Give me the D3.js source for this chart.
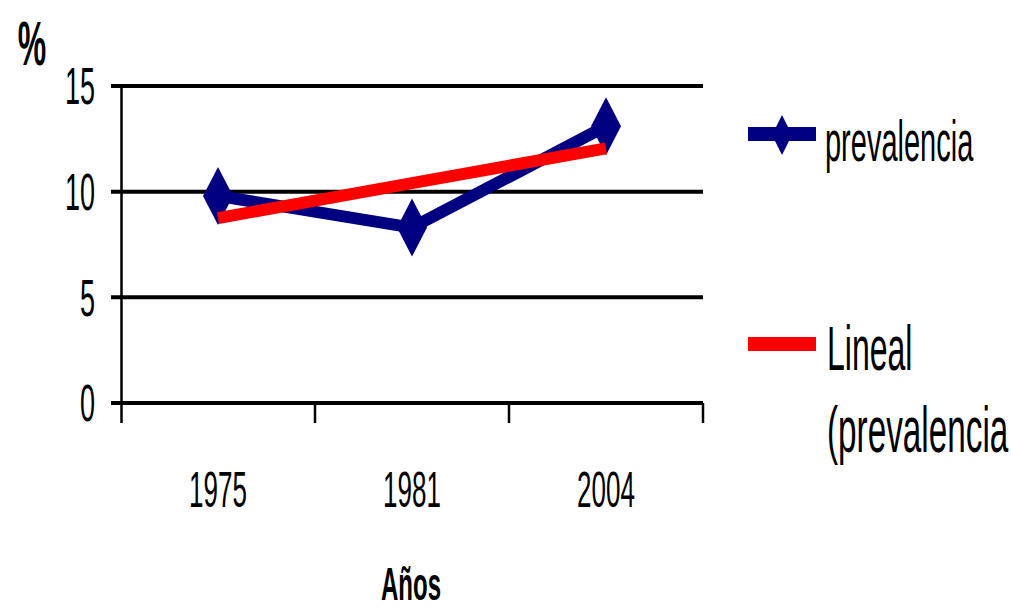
<!DOCTYPE html>
<html>
<head>
<meta charset="utf-8">
<script src="https://cdn.jsdelivr.net/npm/d3@7"></script>
<style>
  html, body { margin: 0; padding: 0; background: #fff; }
  svg { display: block; }
  text { font-family: "Liberation Sans", Arial, sans-serif; fill: #000; }
</style>
</head>
<body>
<svg id="chart" width="1011" height="609"></svg>
<script>
// Prevalencia (%) por año
const years = ["1975", "1981", "2004"];
const prevalencia = [9.8, 8.3, 13.1];
const yTicks = [0, 5, 10, 15];
const seriesNames = ["prevalencia", "Lineal", "(prevalencia"];

const svg = d3.select("#chart");
const SY = 1.95; // tall, condensed lettering

const x = d3.scaleBand().domain(years).range([121, 703]).padding(0);
const y = d3.scaleLinear().domain([0, 15]).range([403, 86]);
const cx = d => x(d) + x.bandwidth() / 2;

function label(txt, px, py, size, anchor, weight) {
  return svg.append("text")
    .attr("transform", `translate(${px},${py}) scale(1,${SY})`)
    .attr("font-size", size)
    .attr("text-anchor", anchor || "start")
    .attr("font-weight", weight || "normal")
    .text(txt);
}

// horizontal gridlines
svg.append("g").selectAll("line").data(yTicks).join("line")
  .attr("x1", 111).attr("x2", 703)
  .attr("y1", d => y(d)).attr("y2", d => y(d))
  .attr("stroke", "#000").attr("stroke-width", 4);

// y axis labels
const yAxis = svg.append("g").attr("transform", "translate(95,0)")
  .call(d3.axisLeft(y).tickValues(yTicks).tickSize(0).tickPadding(0));
yAxis.select(".domain").remove();
yAxis.selectAll("text")
  .attr("font-size", 27)
  .attr("font-family", "Liberation Sans, Arial, sans-serif")
  .attr("transform", `scale(1,${SY})`)
  .attr("dy", "0.34em");

// vertical axis line
svg.append("line")
  .attr("x1", 121.5).attr("x2", 121.5)
  .attr("y1", y(15) - 2).attr("y2", 423)
  .attr("stroke", "#000").attr("stroke-width", 2.5);

// category boundary ticks
const bounds = years.map(d => x(d)).concat([x.range()[1]]);
svg.append("g").selectAll("line").data(bounds.slice(1)).join("line")
  .attr("x1", d => d).attr("x2", d => d)
  .attr("y1", y(0)).attr("y2", 423)
  .attr("stroke", "#000").attr("stroke-width", 2.5);

// year labels
years.forEach(yr => label(yr, cx(yr), 507, 26, "middle"));

// axis titles
label("Años", 411, 600, 24, "middle", "bold");
label("%", 32, 65, 32, "middle", "bold");

// linear trend (least squares over category index)
const idx = years.map((d, i) => i + 1);
const mx = d3.mean(idx), my = d3.mean(prevalencia);
const slope = d3.sum(idx, (t, i) => (t - mx) * (prevalencia[i] - my)) /
              d3.sum(idx, t => (t - mx) * (t - mx));
const icpt = my - slope * mx;
const trend = idx.map(t => icpt + slope * t);

const diamond = (w, h) => `M0,${-h}L${w},0L0,${h}L${-w},0Z`;
const navy = "#000080", red = "#ff0000";

// prevalencia series
svg.append("path")
  .datum(prevalencia)
  .attr("fill", "none").attr("stroke", navy).attr("stroke-width", 12)
  .attr("stroke-linejoin", "miter")
  .attr("d", d3.line().x((d, i) => cx(years[i])).y(d => y(d)));
svg.append("g").selectAll("path").data(prevalencia).join("path")
  .attr("transform", (d, i) => `translate(${cx(years[i])},${y(d)})`)
  .attr("d", diamond(15, 29))
  .attr("fill", navy);

// trend line
svg.append("path")
  .datum(trend)
  .attr("fill", "none").attr("stroke", red).attr("stroke-width", 12)
  .attr("d", d3.line().x((d, i) => cx(years[i])).y(d => y(d)));

// legend
svg.append("line").attr("x1", 748).attr("x2", 816).attr("y1", 134).attr("y2", 134)
  .attr("stroke", navy).attr("stroke-width", 14);
svg.append("path").attr("transform", "translate(782,135)")
  .attr("d", diamond(10, 20)).attr("fill", navy);
label(seriesNames[0], 825, 161, 29);

svg.append("line").attr("x1", 748).attr("x2", 816).attr("y1", 344).attr("y2", 344)
  .attr("stroke", red).attr("stroke-width", 14);
label(seriesNames[1], 827, 370, 32);
label(seriesNames[2], 827, 452, 33.3);
</script>
</body>
</html>
